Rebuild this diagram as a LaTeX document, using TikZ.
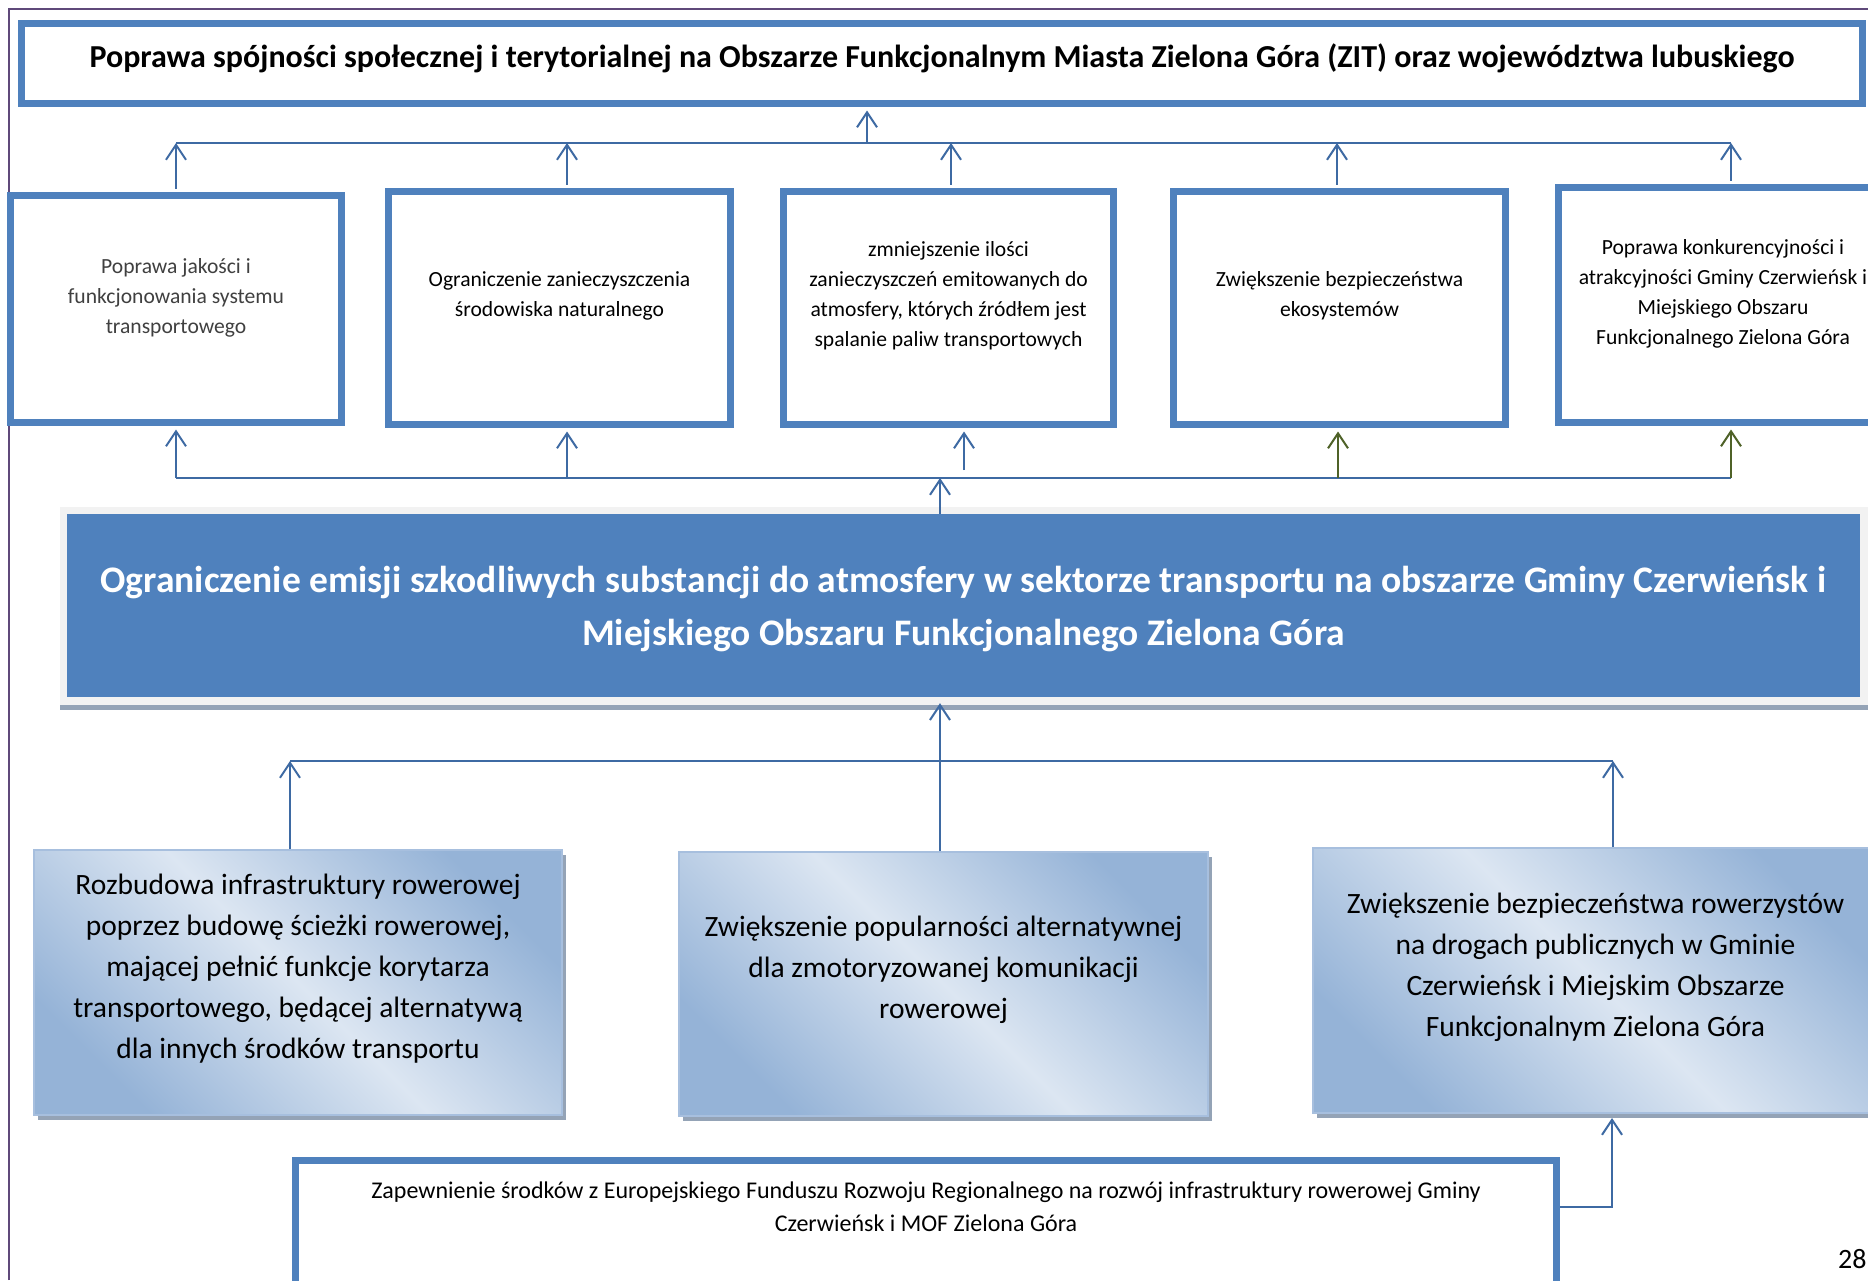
\documentclass[tikz,border=0pt]{standalone}
\usepackage{fontspec}
\setmainfont{Carlito}
\usetikzlibrary{arrows.meta,backgrounds,positioning,shadows}

\definecolor{boxblue}{HTML}{4F81BD}
\definecolor{linkblue}{HTML}{3E6AA3}
\definecolor{arrowolive}{HTML}{4F6228}
\definecolor{pagepurple}{HTML}{5F497A}
\definecolor{gradlight}{HTML}{DCE6F2}
\definecolor{graddark}{HTML}{95B3D7}
\definecolor{gradedge}{HTML}{A7BFDE}
\definecolor{shadowgray}{HTML}{94A3B6}
\definecolor{bandgray}{HTML}{F2F2F2}

\begin{document}
\begin{tikzpicture}[x=1pt,y=-1pt,
  framebox/.style={draw=boxblue, line width=7pt, fill=white, inner sep=0pt},
  gradbox/.style={draw=gradedge, line width=2pt, inner sep=0pt,
    drop shadow={shadow xshift=4pt, shadow yshift=-5pt, fill=shadowgray, opacity=1},
    top color=graddark, bottom color=graddark, middle color=gradlight, shading angle=-45},
  bandbox/.style={fill=boxblue, inner sep=0pt},
  link/.style={draw=linkblue, line width=2pt, -{Straight Barb[length=15pt,width=20pt]}},
  olivelink/.style={link, draw=arrowolive},
  barline/.style={draw=linkblue, line width=2pt},
  goaltext/.style={font=\bfseries\fontsize{32}{38}\selectfont},
  smalltext/.style={align=center, font=\fontsize{21.6}{30}\selectfont},
  aimtext/.style={align=center, text=white, font=\bfseries\fontsize{37.5}{53}\selectfont},
  gradtext/.style={align=center, font=\fontsize{29.5}{41}\selectfont},
  fundtext/.style={align=center, font=\fontsize{24}{33}\selectfont}]
\useasboundingbox (0,0) rectangle (1868,1280);
\clip (0,0) rectangle (1868,1280);
\fill[white] (0,0) rectangle (1868,1280);
\draw[pagepurple, line width=2.5pt] (9,1280) -- (9,9) -- (1868,9);

\node [framebox, minimum width=1841pt, minimum height=80pt] (goal) at (942,63.5) {};
\node [goaltext] (goaltxt) at (942,58) {Poprawa spójności społecznej i terytorialnej na Obszarze Funkcjonalnym Miasta Zielona Góra (ZIT) oraz województwa lubuskiego};

\node [framebox, minimum width=331pt, minimum height=227pt] (b1) at (176,309) {};
\node [framebox, minimum width=342pt, minimum height=233pt] (b2) at (559.5,308) {};
\node [framebox, minimum width=330pt, minimum height=233pt] (b3) at (948.5,308) {};
\node [framebox, minimum width=332pt, minimum height=233pt] (b4) at (1339.5,308) {};
\node [framebox, minimum width=329pt, minimum height=235pt] (b5) at (1723,305) {};
\node [smalltext, text=black!75] (b1txt) at (176,297.5) {Poprawa jakości i\\funkcjonowania systemu\\transportowego};
\node [smalltext] (b2txt) at (559.5,295.5) {Ograniczenie zanieczyszczenia\\środowiska naturalnego};
\node [smalltext] (b3txt) at (948.5,295.5) {zmniejszenie ilości\\zanieczyszczeń emitowanych do\\atmosfery, których źródłem jest\\spalanie paliw transportowych};
\node [smalltext] (b4txt) at (1339.5,295.5) {Zwiększenie bezpieczeństwa\\ekosystemów};
\node [smalltext] (b5txt) at (1723,294) {Poprawa konkurencyjności i\\atrakcyjności Gminy Czerwieńsk i\\Miejskiego Obszaru\\Funkcjonalnego Zielona Góra};

\fill[bandgray] (60,507) rectangle (1868,705);
\fill[shadowgray] (60,705) rectangle (1868,710);
\node [bandbox, minimum width=1793pt, minimum height=183pt] (aim) at (963.5,605.5) {};
\node [aimtext] (aimtxt) at (963.5,609) {Ograniczenie emisji szkodliwych substancji do atmosfery w sektorze transportu na obszarze Gminy Czerwieńsk i\\Miejskiego Obszaru Funkcjonalnego Zielona Góra};

\node [gradbox, minimum width=528pt, minimum height=265pt] (g1) at (298,982.5) {};
\node [gradbox, minimum width=529pt, minimum height=264pt] (g2) at (943.5,984) {};
\node [gradbox, minimum width=565pt, minimum height=265pt] (g3) at (1595.5,980.5) {};
\node [gradtext] (g1txt) at (298,969) {Rozbudowa infrastruktury rowerowej\\poprzez budowę ścieżki rowerowej,\\mającej pełnić funkcje korytarza\\transportowego, będącej alternatywą\\dla innych środków transportu};
\node [gradtext] (g2txt) at (943.5,970) {Zwiększenie popularności alternatywnej\\dla zmotoryzowanej komunikacji\\rowerowej};
\node [gradtext] (g3txt) at (1595.5,967) {Zwiększenie bezpieczeństwa rowerzystów\\na drogach publicznych w Gminie\\Czerwieńsk i Miejskim Obszarze\\Funkcjonalnym Zielona Góra};

\node [framebox, minimum width=1261pt, minimum height=166pt] (fund) at (926,1243.5) {};
\node [fundtext] (fundtxt) at (926,1206.5) {Zapewnienie środków z Europejskiego Funduszu Rozwoju Regionalnego na rozwój infrastruktury rowerowej Gminy\\Czerwieńsk i MOF Zielona Góra};

\node [anchor=west, inner sep=0pt, font=\fontsize{28}{32}\selectfont] (pageno) at (1838,1259) {28};

\coordinate (topbar) at (867,143);
\coordinate (midbar) at (940,478);
\coordinate (lowbar) at (940,761);
\coordinate (stub) at (964,470);
\coordinate (fundlink) at (1612,1207);

\draw[barline] (b1.north |- topbar) -- ([xshift=8pt]b5.north |- topbar);
\draw[link, shorten >=3.5pt] (topbar) -- (topbar |- goal.south);
\draw[link, shorten <=3.5pt] (b1.north) -- (b1.north |- topbar);
\draw[link, shorten <=3.5pt] ([xshift=7.5pt]b2.north) -- ([xshift=7.5pt]b2.north |- topbar);
\draw[link, shorten <=3.5pt] ([xshift=2.5pt]b3.north) -- ([xshift=2.5pt]b3.north |- topbar);
\draw[link, shorten <=3.5pt] ([xshift=-2.5pt]b4.north) -- ([xshift=-2.5pt]b4.north |- topbar);
\draw[link, shorten <=3.5pt] ([xshift=8pt]b5.north) -- ([xshift=8pt]b5.north |- topbar);

\draw[barline] (b1.south |- midbar) -- ([xshift=8pt]b5.south |- midbar);
\draw[link] (aim.north -| midbar) -- (midbar);
\draw[link, shorten >=3.5pt] (b1.south |- midbar) -- (b1.south);
\draw[link, shorten >=3.5pt] ([xshift=7.5pt]b2.south |- midbar) -- ([xshift=7.5pt]b2.south);
\draw[link, shorten >=3.5pt] (stub) -- (stub |- b3.south);
\draw[olivelink, shorten >=3.5pt] ([xshift=-1.5pt]b4.south |- midbar) -- ([xshift=-1.5pt]b4.south);
\draw[olivelink, shorten >=3.5pt] ([xshift=8pt]b5.south |- midbar) -- ([xshift=8pt]b5.south);

\draw[barline] ([xshift=-8pt]g1.north |- lowbar) -- ([xshift=17.5pt]g3.north |- lowbar);
\draw[link] (g2.north -| lowbar) -- ([yshift=-6pt]aim.south -| lowbar);
\draw[link] ([xshift=-8pt]g1.north) -- ([xshift=-8pt]g1.north |- lowbar);
\draw[link] ([xshift=17.5pt]g3.north) -- ([xshift=17.5pt]g3.north |- lowbar);
\draw[link] (fund.east |- fundlink) -- (fundlink) -- ([yshift=-4pt]fundlink |- g3.south);
\end{tikzpicture}
\end{document}
